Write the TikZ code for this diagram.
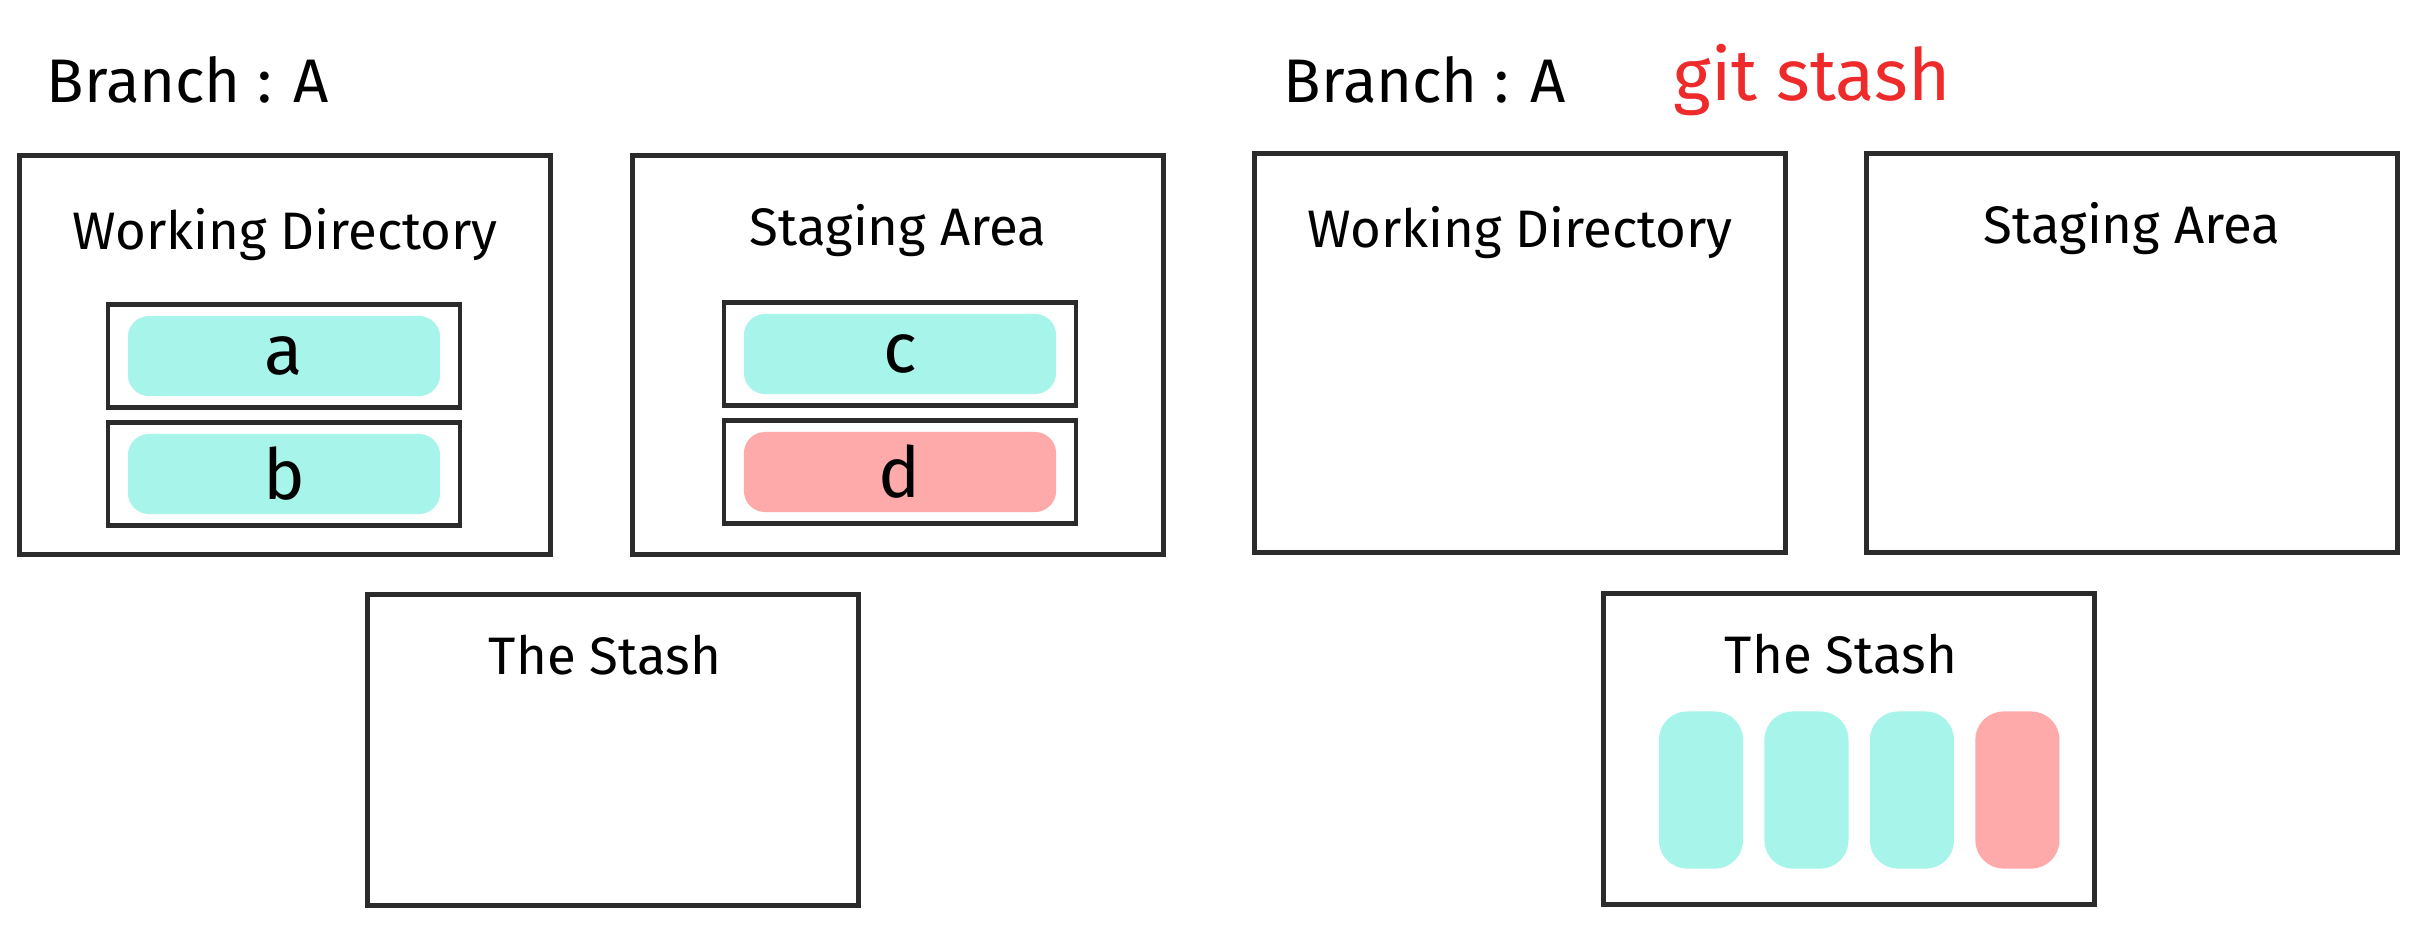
\documentclass[tikz,border=0pt]{standalone}
\usepackage{fontspec}
\setmainfont{Fira Sans}
\usetikzlibrary{positioning}

\definecolor{pencil}{HTML}{2B2B2B}
\definecolor{fresh}{HTML}{A6F4EA}
\definecolor{dirty}{HTML}{FFAAAA}
\definecolor{cmdred}{HTML}{EE2A2A}

\begin{document}
\begin{tikzpicture}[x=0.01cm, y=-0.01cm,
    area/.style={draw=pencil, line width=1.4pt, inner sep=0pt,
                 minimum width=5.3cm, minimum height=3.98cm},
    stashbox/.style={draw=pencil, line width=1.4pt, inner sep=0pt,
                 minimum width=4.9cm, minimum height=3.1cm},
    slot/.style={draw=pencil, line width=1.3pt, inner sep=0pt,
                 minimum width=3.52cm, minimum height=1.03cm},
    file/.style={rounded corners=6pt, inner sep=0pt, minimum width=3.12cm,
                 minimum height=0.8cm, font=\fontsize{20}{24}\selectfont},
    bar/.style={rounded corners=8pt, inner sep=0pt,
                minimum width=0.84cm, minimum height=1.57cm},
    title/.style={font=\fontsize{15}{18}\selectfont},
    head/.style={font=\fontsize{17.5}{22}\selectfont}
  ]
  \useasboundingbox (0,0) rectangle (2418,932);

  % before
  \node[head] (branchA) at (188,80) {Branch : A};
  \node[area] (wdA) at (285,355) {};
  \node[area] (saA) at (898,355) {};
  \node[stashbox] (stashA) at (613,750) {};
  \node[title, below=0.42cm of wdA.north] (wdAtitle) {Working Directory};
  \node[title, below=0.38cm of saA.north] (saAtitle) {Staging Area};
  \node[title, below=0.3cm of stashA.north, xshift=-0.08cm] (stashAtitle) {The Stash};

  \node[slot] (slotA) at (284,356) {};
  \node[file, fill=fresh] (fileA) at (slotA) {a};
  \node[slot] (slotB) at (284,474) {};
  \node[file, fill=fresh] (fileB) at (slotB) {b};
  \node[slot] (slotC) at (900,354) {};
  \node[file, fill=fresh] (fileC) at (slotC) {c};
  \node[slot] (slotD) at (900,472) {};
  \node[file, fill=dirty] (fileD) at (slotD) {d};

  % after git stash
  \node[head] (branchB) at (1425,80) {Branch : A};
  \node[head, text=cmdred, font=\fontsize{20.5}{24}\selectfont] (cmd) at (1812,80) {git stash};
  \node[area] (wdB) at (1520,353) {};
  \node[area] (saB) at (2132,353) {};
  \node[stashbox] (stashB) at (1849,749) {};
  \node[title, below=0.42cm of wdB.north] (wdBtitle) {Working Directory};
  \node[title, below=0.38cm of saB.north] (saBtitle) {Staging Area};
  \node[title, below=0.3cm of stashB.north, xshift=-0.08cm] (stashBtitle) {The Stash};

  \node[bar, fill=fresh] (bar1) at (1701,790) {};
  \node[bar, fill=fresh, right=0.2cm of bar1] (bar2) {};
  \node[bar, fill=fresh, right=0.2cm of bar2] (bar3) {};
  \node[bar, fill=dirty, right=0.2cm of bar3] (bar4) {};
\end{tikzpicture}
\end{document}
